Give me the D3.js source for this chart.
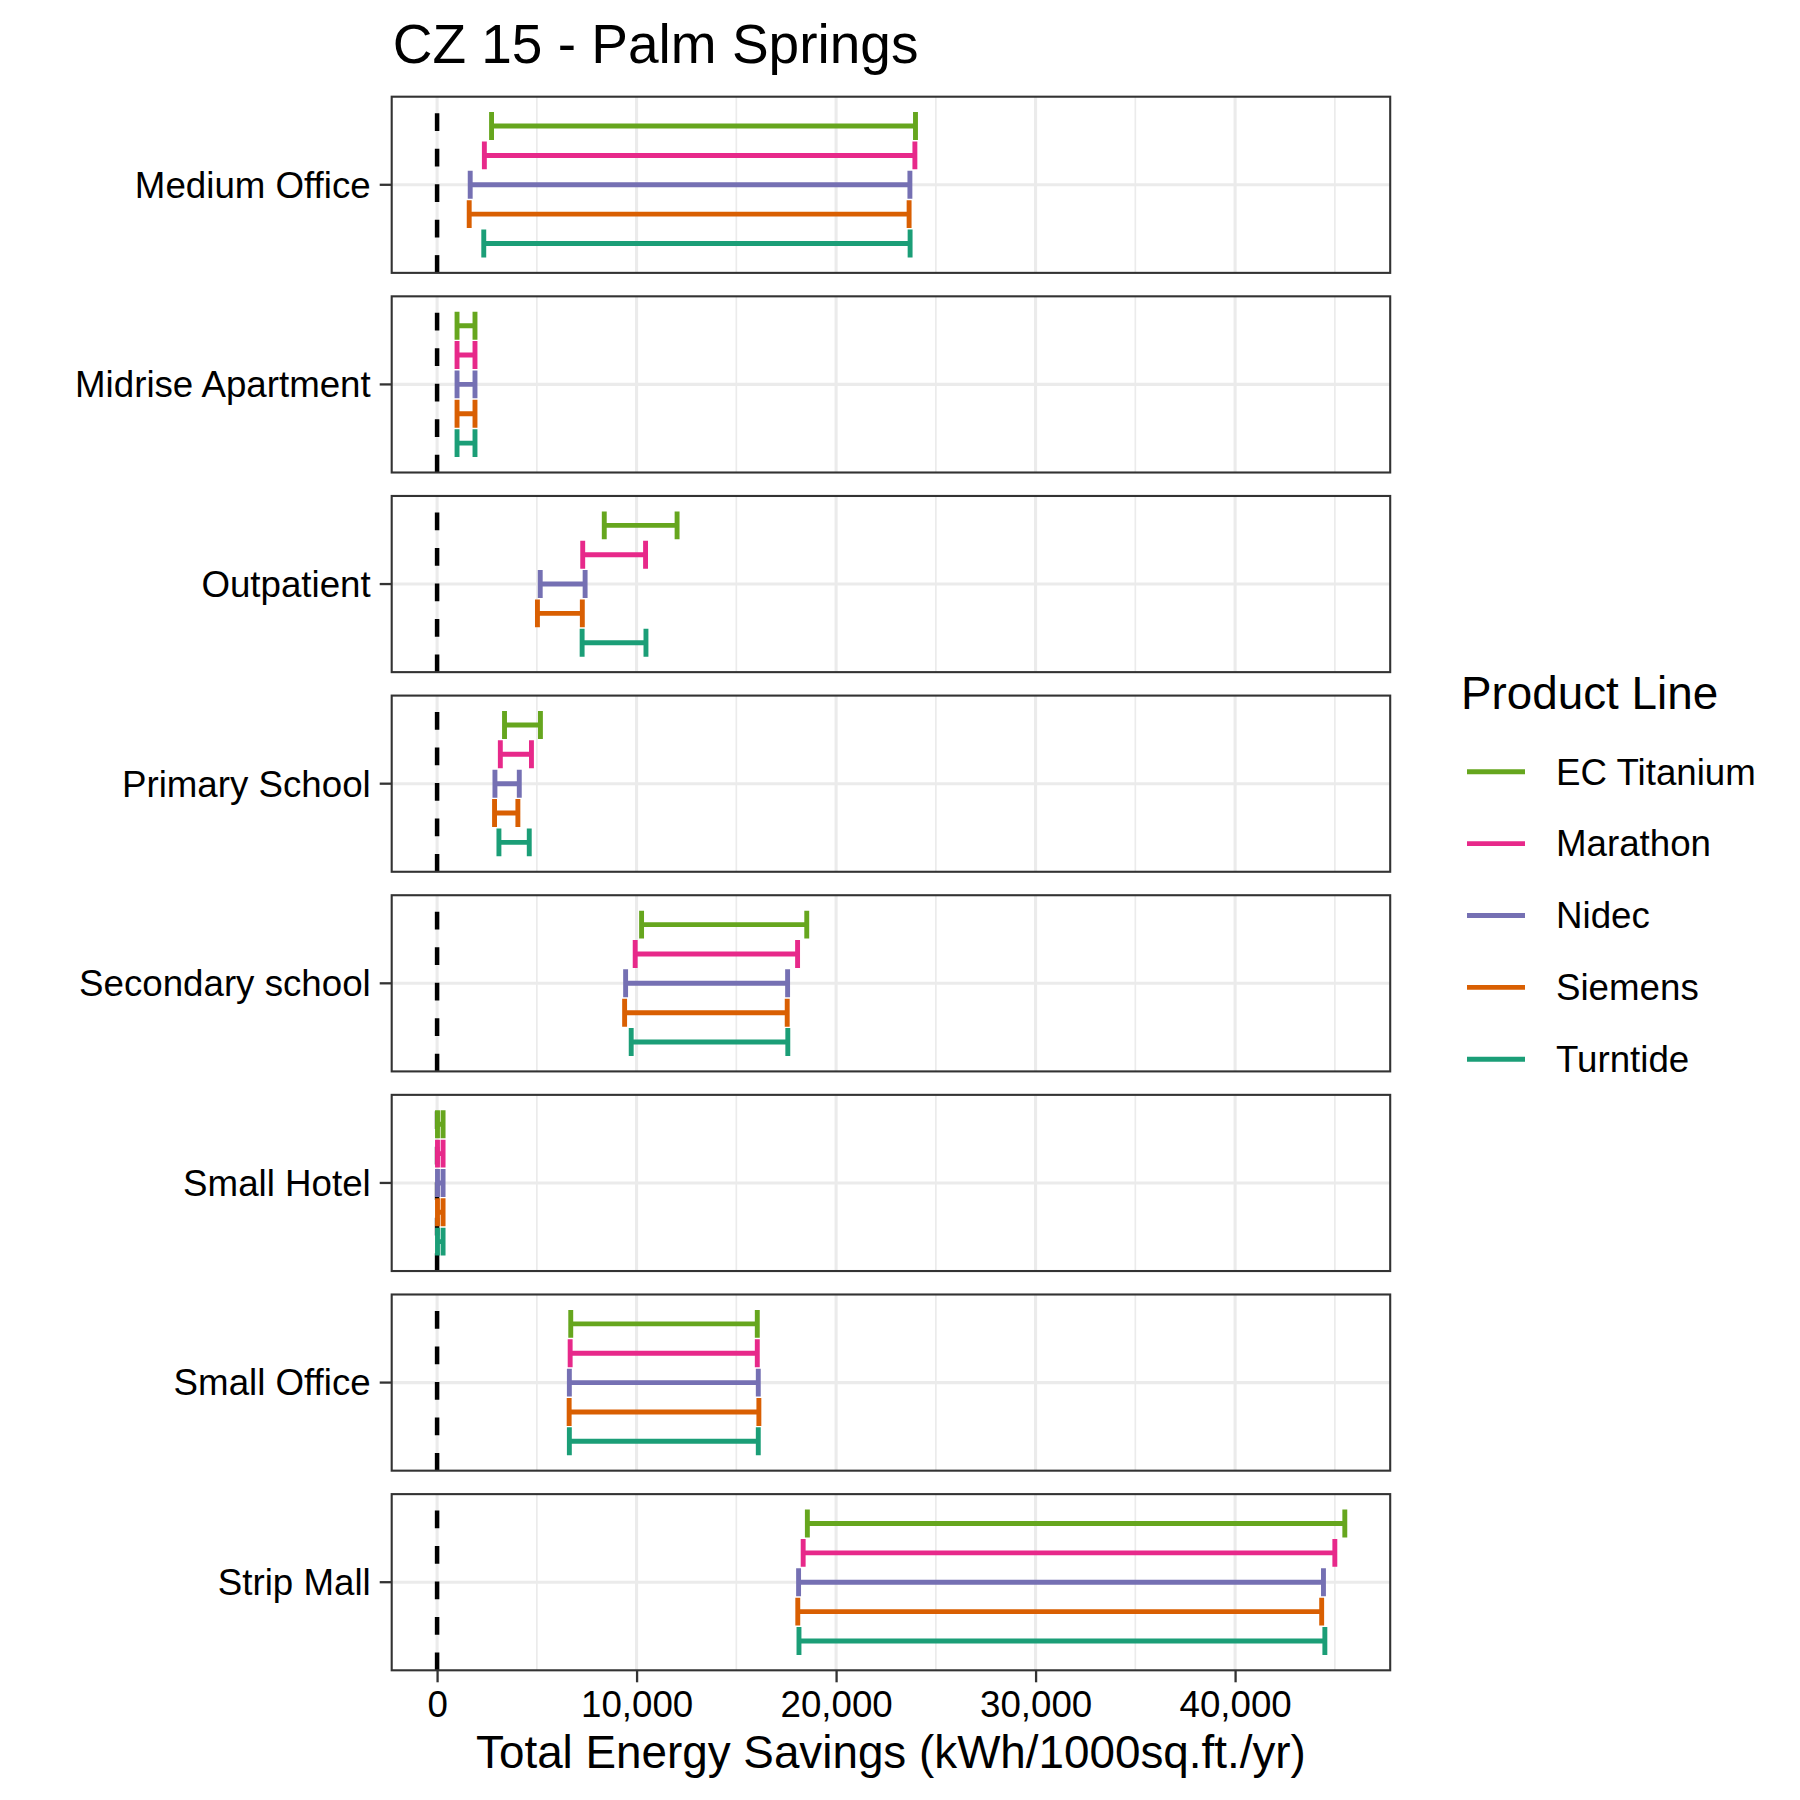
<!DOCTYPE html>
<html>
<head>
<meta charset="utf-8">
<script src="https://cdn.jsdelivr.net/npm/d3@7"></script>
<style>
  html, body { margin: 0; padding: 0; background: #fff; }
  svg { display: block; font-family: "Liberation Sans", Arial, Helvetica, sans-serif; }
</style>
</head>
<body>
<svg id="chart" width="1800" height="1800"></svg>
<script>
// ---------------- DATA ----------------
const buildings = ["Medium Office", "Midrise Apartment", "Outpatient", "Primary School",
                   "Secondary school", "Small Hotel", "Small Office", "Strip Mall"];
const products = ["EC Titanium", "Marathon", "Nidec", "Siemens", "Turntide"];
const productColors = ["#66A61E", "#E7298A", "#7570B3", "#D95F02", "#1B9E77"];

// low / high savings per building (same order as `buildings`)
const ecTitaniumLow  = [2730, 1000, 8380, 3380, 10250, 20, 6700, 18560];
const ecTitaniumHigh = [23980, 1900, 12030, 5180, 18530, 300, 16050, 45500];
const marathonLow    = [2370, 1000, 7300, 3170, 9930, 20, 6670, 18350];
const marathonHigh   = [23950, 1900, 10450, 4730, 18070, 300, 16050, 45000];
const nidecLow       = [1660, 1000, 5170, 2900, 9450, 20, 6630, 18120];
const nidecHigh      = [23700, 1900, 7420, 4120, 17570, 300, 16100, 44430];
const siemensLow     = [1610, 1000, 5030, 2880, 9400, 20, 6620, 18080];
const siemensHigh    = [23660, 1900, 7280, 4050, 17550, 300, 16130, 44340];
const turntideLow    = [2340, 1000, 7270, 3100, 9730, 20, 6630, 18140];
const turntideHigh   = [23710, 1900, 10470, 4620, 17580, 300, 16100, 44500];

const xMajorTicks = [0, 10000, 20000, 30000, 40000];
const xMinorTicks = [5000, 15000, 25000, 35000, 45000];

const chartTitle = "CZ 15 - Palm Springs";
const xTitle = "Total Energy Savings (kWh/1000sq.ft./yr)";
const legendTitle = "Product Line";

// ---------------- BUILD ROWS ----------------
const lows = [ecTitaniumLow, marathonLow, nidecLow, siemensLow, turntideLow];
const highs = [ecTitaniumHigh, marathonHigh, nidecHigh, siemensHigh, turntideHigh];
const rows = [];
buildings.forEach((b, bi) => {
  products.forEach((p, pi) => {
    rows.push({ building: b, product: p, low: lows[pi][bi], high: highs[pi][bi] });
  });
});

// ---------------- LAYOUT ----------------
const panelLeft = 391.7, panelRight = 1390.2;
const panelTop = 96.7, panelBottom = 1670.3;
const FONT = '"Liberation Sans", Arial, Helvetica, sans-serif';

const svg = d3.select("#chart");

const dataMin = Math.min(0, d3.min(rows, d => d.low));
const dataMax = d3.max(rows, d => d.high);
const span = dataMax - dataMin;
const x = d3.scaleLinear()
  .domain([dataMin - 0.05 * span, dataMax + 0.05 * span])
  .range([panelLeft, panelRight]);

const yPanel = d3.scaleBand()
  .domain(buildings)
  .range([panelTop, panelBottom])
  .paddingInner(0.1175)
  .paddingOuter(0);

const color = d3.scaleOrdinal().domain(products).range(productColors);

const bw = yPanel.bandwidth();
const unit = bw / 1.2;            // one discrete unit with 0.6 expansion each side
const dodgeStep = 0.2 * unit;
const capHalf = 0.095 * unit;

// ---------------- PANELS ----------------
buildings.forEach(b => {
  const top = yPanel(b);
  const cy = top + bw / 2;
  const g = svg.append("g").attr("class", "panel");

  g.append("rect")
    .attr("x", panelLeft).attr("y", top)
    .attr("width", panelRight - panelLeft).attr("height", bw)
    .attr("fill", "#fff");

  // minor grid
  g.selectAll(".minor").data(xMinorTicks.filter(v => x(v) < panelRight)).enter()
    .append("line")
    .attr("x1", d => x(d)).attr("x2", d => x(d))
    .attr("y1", top).attr("y2", top + bw)
    .attr("stroke", "#EBEBEB").attr("stroke-width", 1.7);

  // major grid
  g.selectAll(".major").data(xMajorTicks).enter()
    .append("line")
    .attr("x1", d => x(d)).attr("x2", d => x(d))
    .attr("y1", top).attr("y2", top + bw)
    .attr("stroke", "#EBEBEB").attr("stroke-width", 3.1);
  g.append("line")
    .attr("x1", panelLeft).attr("x2", panelRight)
    .attr("y1", cy).attr("y2", cy)
    .attr("stroke", "#EBEBEB").attr("stroke-width", 3.1);

  // dashed zero line (drawn bottom to top)
  g.append("line")
    .attr("x1", x(0)).attr("x2", x(0))
    .attr("y1", top + bw).attr("y2", top)
    .attr("stroke", "#000").attr("stroke-width", 4.5)
    .attr("stroke-dasharray", "17.75,17.75");

  // error bars
  const yProd = d3.scalePoint().domain(products)
    .range([cy - 2 * dodgeStep, cy + 2 * dodgeStep]);

  g.selectAll(".eb").data(rows.filter(r => r.building === b)).enter()
    .append("path")
    .attr("d", d => {
      const yy = yProd(d.product), x0 = x(d.low), x1 = x(d.high);
      return `M${x0},${yy - capHalf}L${x0},${yy + capHalf}` +
             `M${x0},${yy}L${x1},${yy}` +
             `M${x1},${yy - capHalf}L${x1},${yy + capHalf}`;
    })
    .attr("fill", "none")
    .attr("stroke", d => color(d.product))
    .attr("stroke-width", 4.9)
    .attr("stroke-linecap", "butt");

  // border
  g.append("rect")
    .attr("x", panelLeft).attr("y", top)
    .attr("width", panelRight - panelLeft).attr("height", bw)
    .attr("fill", "none").attr("stroke", "#333333").attr("stroke-width", 2.1);
});

// ---------------- AXES ----------------
const yAxis = svg.append("g")
  .attr("transform", `translate(${panelLeft},0)`)
  .call(d3.axisLeft(yPanel).tickSize(12).tickPadding(9));
yAxis.select(".domain").remove();
yAxis.selectAll(".tick line").attr("stroke", "#333333").attr("stroke-width", 2.3);
yAxis.selectAll(".tick text")
  .attr("fill", "#000").style("font-size", "36.7px").style("font-family", FONT)
  .attr("dy", "0.35em");

const xAxis = svg.append("g")
  .attr("transform", `translate(0,${panelBottom})`)
  .call(d3.axisBottom(x).tickValues(xMajorTicks).tickFormat(d3.format(",")).tickSize(12).tickPadding(9));
xAxis.select(".domain").remove();
xAxis.selectAll(".tick line").attr("stroke", "#333333").attr("stroke-width", 2.3);
xAxis.selectAll(".tick text")
  .attr("fill", "#000").style("font-size", "36.7px").style("font-family", FONT)
  .attr("dy", "0.71em");

// ---------------- TITLES ----------------
svg.append("text")
  .attr("x", panelLeft + 1).attr("y", 63)
  .style("font-size", "55px").style("font-family", FONT)
  .attr("fill", "#000")
  .text(chartTitle);

svg.append("text")
  .attr("x", (panelLeft + panelRight) / 2).attr("y", 1768)
  .attr("text-anchor", "middle")
  .style("font-size", "45.8px").style("font-family", FONT)
  .attr("fill", "#000")
  .text(xTitle);

// ---------------- LEGEND ----------------
const legend = svg.append("g");
legend.append("text")
  .attr("x", 1461).attr("y", 709)
  .style("font-size", "45.8px").style("font-family", FONT)
  .attr("fill", "#000")
  .text(legendTitle);

const yLeg = d3.scalePoint().domain(products).range([771.7, 1059.3]);
const items = legend.selectAll(".item").data(products).enter().append("g");
items.append("line")
  .attr("x1", 1467).attr("x2", 1525)
  .attr("y1", d => yLeg(d)).attr("y2", d => yLeg(d))
  .attr("stroke", d => color(d)).attr("stroke-width", 4.9);
items.append("text")
  .attr("x", 1556).attr("y", d => yLeg(d))
  .attr("dy", "0.35em")
  .style("font-size", "36.7px").style("font-family", FONT)
  .attr("fill", "#000")
  .text(d => d);
</script>
</body>
</html>
